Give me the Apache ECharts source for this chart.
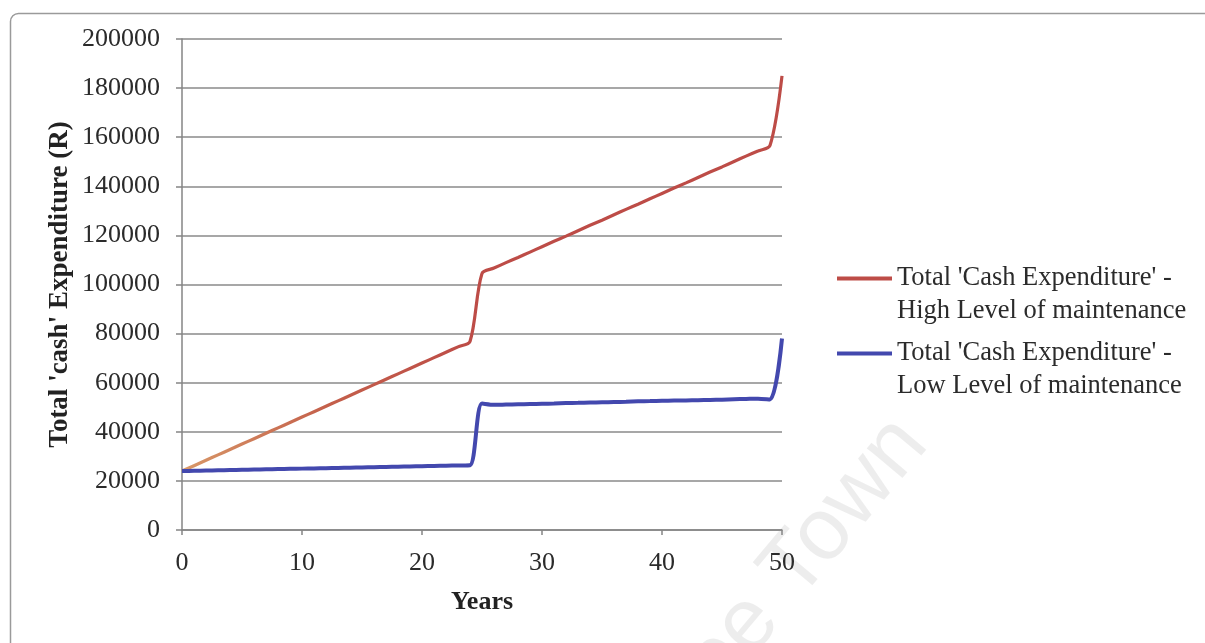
<!DOCTYPE html>
<html>
<head>
<meta charset="utf-8">
<title>Total cash expenditure</title>
<script src="https://cdn.jsdelivr.net/npm/echarts@6/dist/echarts.min.js"></script>
<style>
  html, body { margin: 0; padding: 0; background: #ffffff; }
  #chart { width: 1205px; height: 643px; }
</style>
</head>
<body>
<div id="chart"></div>
<script>
// Years 0..50
const years = [
  0, 1, 2, 3, 4, 5, 6, 7, 8, 9, 10, 11, 12, 13, 14, 15, 16, 17, 18, 19, 20,
  21, 22, 23, 24, 25, 26, 27, 28, 29, 30, 31, 32, 33, 34, 35, 36, 37, 38, 39, 40,
  41, 42, 43, 44, 45, 46, 47, 48, 49, 50
];

// Total 'Cash Expenditure' (R) - high level of maintenance
const highMaintenance = [
  24000, 26200, 28400, 30600, 32800, 35000, 37200, 39400, 41600, 43800, 46000,
  48200, 50400, 52600, 54800, 57000, 59200, 61400, 63600, 65800, 68000,
  70200, 72400, 74600, 76800, 104500, 106700, 108900, 111000, 113200, 115400,
  117600, 119700, 121900, 124100, 126200, 128400, 130600, 132700, 134900, 137100,
  139300, 141400, 143600, 145800, 147900, 150100, 152300, 154400, 156600, 185000
];

// Total 'Cash Expenditure' (R) - low level of maintenance
const lowMaintenance = [
  24000, 24100, 24200, 24300, 24400, 24500, 24600, 24700, 24800, 24900, 25000,
  25100, 25200, 25300, 25400, 25500, 25600, 25700, 25800, 25900, 26000,
  26100, 26200, 26300, 26400, 51500, 51000, 51100, 51200, 51300, 51400,
  51500, 51700, 51800, 51900, 52000, 52100, 52200, 52400, 52500, 52600,
  52700, 52800, 52900, 53000, 53100, 53300, 53400, 53500, 53200, 78000
];

const seriesNames = [
  "Total 'Cash Expenditure' -\nHigh Level of maintenance",
  "Total 'Cash Expenditure' -\nLow Level of maintenance"
];

const xTicks = { min: 0, max: 50, interval: 10 };
const yTicks = { min: 0, max: 200000, interval: 20000 };

const FONT = "'Liberation Serif', 'Times New Roman', serif";
const RED = '#bd4c47';
const BLUE = '#4348ae';

const pairs = (xs, ys) => xs.map((x, i) => [x, ys[i]]);

const chart = echarts.init(document.getElementById('chart'), null, { renderer: 'canvas' });

// One legend block per series; a blank leading line keeps the key line
// level with the first line of its two-line label.
function legendFor(name, color, top) {
  return {
    show: true,
    orient: 'vertical',
    left: 832,
    top: top,
    itemWidth: 55,
    itemHeight: 4,
    itemGap: 0,
    icon: 'rect',
    selectedMode: false,
    formatter: n => '\n' + n,
    textStyle: {
      fontFamily: FONT,
      fontSize: 26.5,
      color: '#2b2b2b',
      lineHeight: 33
    },
    data: [{ name: name, itemStyle: { color: color } }]
  };
}

chart.setOption({
  backgroundColor: '#ffffff',
  animation: false,
  grid: { left: 182, right: 423, top: 39, bottom: 113, containLabel: false },
  legend: [
    legendFor(seriesNames[0], RED, 224),
    legendFor(seriesNames[1], BLUE, 299)
  ],
  visualMap: {
    type: 'continuous',
    show: false,
    seriesIndex: 0,
    dimension: 0,
    min: 0,
    max: 24,
    inRange: { color: ['#d89868', '#c4604b', RED] }
  },
  xAxis: {
    type: 'value',
    min: xTicks.min,
    max: xTicks.max,
    interval: xTicks.interval,
    name: 'Years',
    nameLocation: 'middle',
    nameGap: 59,
    nameTextStyle: { fontFamily: FONT, fontSize: 26, fontWeight: 'bold', color: '#222' },
    axisLine: { show: true, lineStyle: { color: '#858585', width: 1.5 } },
    axisTick: { show: true, length: 5, lineStyle: { color: '#858585', width: 1.5 } },
    axisLabel: { fontFamily: FONT, fontSize: 26, color: '#2b2b2b', margin: 20 },
    splitLine: { show: false }
  },
  yAxis: {
    type: 'value',
    min: yTicks.min,
    max: yTicks.max,
    interval: yTicks.interval,
    name: "Total 'cash' Expenditure (R)",
    nameLocation: 'middle',
    nameGap: 108,
    nameRotate: 90,
    nameTextStyle: { fontFamily: FONT, fontSize: 27, fontWeight: 'bold', color: '#222' },
    axisLine: { show: true, lineStyle: { color: '#858585', width: 1.5 } },
    axisTick: { show: true, length: 6, lineStyle: { color: '#858585', width: 1.5 } },
    axisLabel: {
      fontFamily: FONT, fontSize: 26, color: '#2b2b2b', margin: 22,
      formatter: v => String(v)
    },
    splitLine: { show: true, lineStyle: { color: '#8a8a8a', width: 1.5 } }
  },
  series: [
    {
      name: seriesNames[0],
      type: 'line',
      data: pairs(years, highMaintenance),
      smooth: 0.3,
      showSymbol: false,
      symbol: 'none',
      color: RED,
      lineStyle: { width: 3.2 },
      z: 3
    },
    {
      name: seriesNames[1],
      type: 'line',
      data: pairs(years, lowMaintenance),
      smooth: 0.3,
      showSymbol: false,
      symbol: 'none',
      color: BLUE,
      lineStyle: { width: 4, color: BLUE },
      z: 4
    }
  ],
  graphic: [
    {
      // outer frame of the figure
      type: 'rect',
      left: 8,
      top: 11,
      shape: { width: 1300, height: 700, r: [8, 0, 0, 0] },
      style: { fill: 'none', stroke: '#9a9a9a', lineWidth: 1.5 },
      silent: true,
      z: -10
    },
    {
      // faint watermark across the lower right
      type: 'text',
      x: 945,
      y: 458,
      rotation: 50 * Math.PI / 180,
      silent: true,
      z: -5,
      style: {
        text: 'Cape Town',
        font: '88px "Liberation Sans", Arial, sans-serif',
        fill: 'rgba(0,0,0,0.07)',
        align: 'right',
        verticalAlign: 'bottom'
      }
    }
  ]
});
</script>
</body>
</html>
